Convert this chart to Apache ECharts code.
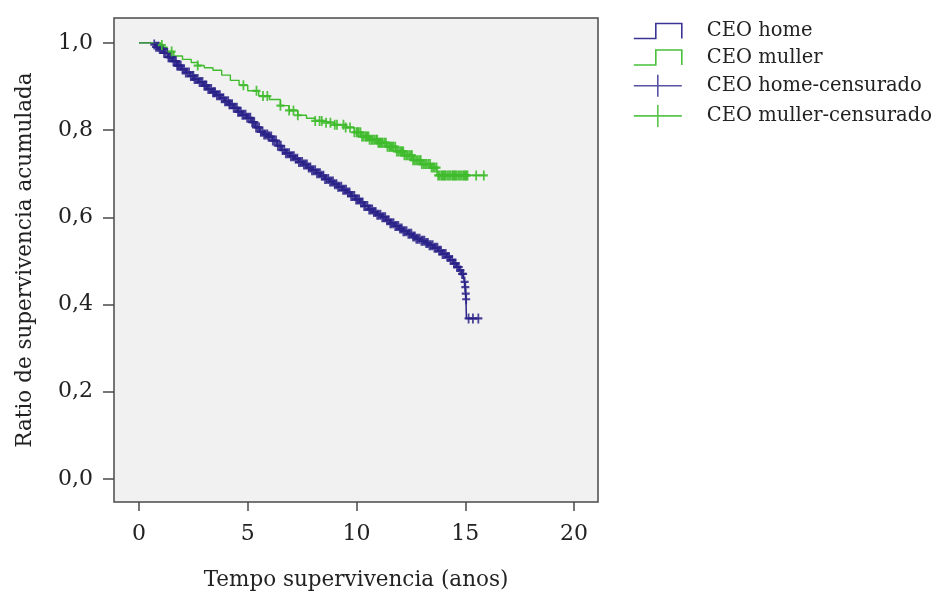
<!DOCTYPE html>
<html>
<head>
<meta charset="utf-8">
<script src="https://cdn.jsdelivr.net/npm/echarts@6/dist/echarts.min.js"></script>
<style>
  html, body { margin: 0; padding: 0; background: #fff; }
  #grafico { width: 946px; height: 596px; }
</style>
</head>
<body>
<div id="grafico"></div>
<script>
// Kaplan-Meier steps (time in years, cumulative survival)
var homeTimes = [0, 0.55, 0.75, 0.95, 1.15, 1.35, 1.55, 1.75, 1.95, 2.15, 2.35, 2.55, 2.75, 2.95, 3.15, 3.35, 3.55, 3.75, 3.95, 4.15, 4.35, 4.55, 4.75, 4.95, 5.15, 5.35, 5.55, 5.75, 5.95, 6.15, 6.35, 6.55, 6.75, 6.95, 7.15, 7.35, 7.55, 7.75, 7.95, 8.15, 8.35, 8.55, 8.75, 8.95, 9.15, 9.35, 9.55, 9.75, 9.95, 10.15, 10.35, 10.55, 10.75, 10.95, 11.15, 11.35, 11.55, 11.75, 11.95, 12.15, 12.35, 12.55, 12.75, 12.95, 13.15, 13.35, 13.55, 13.75, 13.95, 14.15, 14.3, 14.45, 14.6, 14.72, 14.82, 14.92, 14.96, 14.99, 15.01, 15.03, 15.05, 15.62];
var homeSurv = [1.0, 0.996, 0.991, 0.986, 0.977, 0.967, 0.958, 0.948, 0.939, 0.932, 0.924, 0.917, 0.91, 0.902, 0.894, 0.887, 0.88, 0.873, 0.866, 0.859, 0.851, 0.842, 0.835, 0.828, 0.818, 0.806, 0.796, 0.79, 0.785, 0.776, 0.764, 0.754, 0.747, 0.74, 0.734, 0.727, 0.721, 0.714, 0.708, 0.701, 0.695, 0.688, 0.682, 0.676, 0.67, 0.663, 0.657, 0.649, 0.641, 0.634, 0.626, 0.618, 0.612, 0.606, 0.6, 0.593, 0.586, 0.58, 0.574, 0.568, 0.562, 0.556, 0.551, 0.546, 0.541, 0.536, 0.53, 0.523, 0.516, 0.509, 0.502, 0.494, 0.486, 0.478, 0.47, 0.462, 0.452, 0.44, 0.425, 0.412, 0.368, 0.368];
var homeCensor = [0.7, 0.85, 0.95, 1.05, 1.15, 1.3, 1.4, 1.5, 1.65, 1.75, 1.85, 2.0, 2.15, 2.3, 2.45, 2.55, 2.7, 2.85, 3.0, 3.1, 3.25, 3.4, 3.5, 3.65, 3.8, 3.95, 4.1, 4.2, 4.35, 4.5, 4.6, 4.75, 4.9, 5.05, 5.2, 5.3, 5.45, 5.6, 5.75, 5.9, 6.0, 6.15, 6.3, 6.45, 6.6, 6.75, 6.9, 7.05, 7.2, 7.35, 7.5, 7.65, 7.8, 7.95, 8.1, 8.25, 8.4, 8.55, 8.7, 8.85, 9.0, 9.15, 9.3, 9.45, 9.6, 9.75, 9.9, 10.05, 10.2, 10.35, 10.5, 10.65, 10.8, 10.95, 11.1, 11.25, 11.4, 11.55, 11.7, 11.85, 12.0, 12.15, 12.3, 12.45, 12.6, 12.75, 12.9, 13.05, 13.2, 13.35, 13.5, 13.65, 13.8, 13.95, 14.1, 14.25, 14.4, 14.55, 14.7, 14.85, 14.97, 15.0, 15.02, 15.04, 15.15, 15.35, 15.6,
  0.78, 0.9, 1.0, 1.1, 1.22, 1.35, 1.45, 1.58, 1.7, 1.8, 1.92, 2.07, 2.22, 2.38, 2.5, 2.62, 2.78, 2.92, 3.05, 3.18, 3.32, 3.45, 3.58, 3.72, 3.88, 4.02, 4.15, 4.28, 4.42, 4.55, 4.68, 4.82, 4.97, 5.12, 5.25, 5.38, 5.52, 5.68, 5.82, 5.95, 6.08, 6.22, 6.38, 6.52, 6.68, 6.82, 6.98, 7.12, 7.28, 7.42, 7.58, 7.72, 7.88, 8.02, 8.18, 8.32, 8.48, 8.62, 8.78, 8.92, 9.08, 9.22, 9.38, 9.52, 9.68, 9.82, 9.98, 10.12, 10.28, 10.42, 10.58, 10.72, 10.88, 11.02, 11.18, 11.32, 11.48, 11.62, 11.78, 11.92, 12.08, 12.22, 12.38, 12.52, 12.68, 12.82, 12.98, 13.12, 13.28, 13.42, 13.58, 13.72, 13.88, 14.02, 14.18, 14.32, 14.48, 14.62, 14.78, 14.9];

var mullerTimes = [0, 1.0, 1.1, 1.3, 1.6, 2.0, 2.4, 2.7, 3.0, 3.4, 3.8, 4.2, 4.6, 5.0, 5.5, 6.0, 6.5, 6.9, 7.3, 7.7, 8.1, 8.5, 9.0, 9.5, 9.9, 10.2, 10.6, 11.0, 11.4, 11.8, 12.2, 12.6, 13.0, 13.4, 13.7, 15.9];
var mullerSurv = [1.0, 0.995, 0.99, 0.98, 0.97, 0.962, 0.955, 0.948, 0.943, 0.937, 0.926, 0.914, 0.903, 0.89, 0.878, 0.87, 0.856, 0.845, 0.834, 0.827, 0.821, 0.817, 0.812, 0.806, 0.795, 0.785, 0.778, 0.771, 0.762, 0.751, 0.742, 0.731, 0.722, 0.714, 0.696, 0.696];
var mullerCensor = [1.05, 1.5, 2.7, 4.8, 5.4, 5.7, 5.9, 6.5, 6.9, 7.1, 7.3, 8.1, 8.3, 8.4, 8.6, 8.8, 9.0, 9.1, 9.4, 9.5, 9.7, 9.9, 10.0, 10.1, 10.25, 10.4, 10.5, 10.6, 10.75, 10.9, 11.0, 11.1, 11.2, 11.35, 11.5, 11.6, 11.7, 11.85, 12.0, 12.1, 12.2, 12.35, 12.5, 12.6, 12.75, 12.9, 13.0, 13.15, 13.3, 13.45, 13.6, 13.75, 13.9, 14.0, 14.1, 14.25, 14.4, 14.5, 14.6, 14.75, 14.9, 15.0, 15.1, 15.5, 15.85,
  10.05, 10.18, 10.32, 10.45, 10.55, 10.68, 10.82, 10.95, 11.05, 11.15, 11.28, 11.42, 11.55, 11.65, 11.78, 11.92, 12.05, 12.15, 12.28, 12.42, 12.55, 12.68, 12.82, 12.95, 13.08, 13.22, 13.38, 13.52, 13.68, 13.82, 13.95, 14.05, 14.18, 14.32, 14.45, 14.55, 14.68, 14.82, 14.95, 15.05];

var xTicks = [0, 5, 10, 15, 20];
var yTicks = [0, 0.2, 0.4, 0.6, 0.8, 1.0];
var nomes = ['CEO home', 'CEO muller', 'CEO home-censurado', 'CEO muller-censurado'];

var azul = '#2a2288';
var verde = '#3fbb2c';
var fonte = 'DejaVu Serif';

function pares(t, s) {
  var out = [];
  for (var i = 0; i < t.length; i++) out.push([t[i], s[i]]);
  return out;
}
// survival value at the time of a censored case (last step at or before it)
function censura(t, s, c) {
  var out = [];
  for (var j = 0; j < c.length; j++) {
    var v = 1;
    for (var i = 0; i < t.length; i++) {
      if (t[i] <= c[j]) v = s[i];
    }
    out.push([c[j], v]);
  }
  return out;
}

var cruz = 'path://M3.9,0 H6.1 V3.9 H10 V6.1 H6.1 V10 H3.9 V6.1 H0 V3.9 H3.9 Z';
var iconeDegrau = 'path://M0,15 L22,15 L22,0 L48,0 L48,15';
var iconeCruz = 'path://M0,11 L48,11 M24,0 L24,22';

var chartDom = document.getElementById('grafico');
var myChart = echarts.init(chartDom);
var option;

option = {
  animation: false,
  backgroundColor: '#ffffff',
  textStyle: { fontFamily: fonte },
  grid: {
    left: 114,
    top: 18,
    width: 484,
    height: 484,
    show: true,
    backgroundColor: '#f1f1f1',
    borderColor: '#4a4a4a',
    borderWidth: 1.5
  },
  legend: {
    orient: 'vertical',
    left: 628,
    top: 16,
    itemWidth: 48,
    itemHeight: 22,
    itemGap: 6.5,
    selectedMode: false,
    textStyle: { fontFamily: fonte, fontSize: 19.5, color: '#222', padding: [0, 0, 0, 20] },
    data: [
      { name: nomes[0], icon: iconeDegrau, itemStyle: { color: 'rgba(0,0,0,0)', borderColor: '#3a3595', borderWidth: 1.6 } },
      { name: nomes[1], icon: iconeDegrau, itemStyle: { color: 'rgba(0,0,0,0)', borderColor: '#48c03a', borderWidth: 1.6 } },
      { name: nomes[2], icon: iconeCruz, itemStyle: { color: 'rgba(0,0,0,0)', borderColor: '#3a3595', borderWidth: 1.6 } },
      { name: nomes[3], icon: iconeCruz, itemStyle: { color: 'rgba(0,0,0,0)', borderColor: '#48c03a', borderWidth: 1.6 } }
    ]
  },
  xAxis: {
    type: 'value',
    min: -1.15,
    max: 21.1,
    name: 'Tempo supervivencia (anos)',
    nameLocation: 'middle',
    nameGap: 67,
    nameTextStyle: { fontFamily: fonte, fontSize: 21.5, color: '#222' },
    axisLine: { show: false, onZero: false },
    splitLine: { show: false },
    axisTick: { show: true, length: 9, customValues: xTicks, lineStyle: { color: '#4a4a4a', width: 1.5 } },
    axisLabel: { customValues: xTicks, margin: 21, fontFamily: fonte, fontSize: 22, color: '#222' }
  },
  yAxis: {
    type: 'value',
    min: -0.053,
    max: 1.057,
    name: 'Ratio de supervivencia acumulada',
    nameLocation: 'middle',
    nameGap: 78,
    nameTextStyle: { fontFamily: fonte, fontSize: 21.5, color: '#222' },
    axisLine: { show: false, onZero: false },
    splitLine: { show: false },
    axisTick: { show: true, length: 11, customValues: yTicks, lineStyle: { color: '#4a4a4a', width: 1.5 } },
    axisLabel: {
      customValues: yTicks,
      margin: 21,
      fontFamily: fonte,
      fontSize: 22,
      color: '#222',
      formatter: function (v) { return v.toFixed(1).replace('.', ','); }
    }
  },
  series: [
    {
      name: nomes[0],
      type: 'line',
      step: 'end',
      showSymbol: false,
      color: azul,
      lineStyle: { color: azul, width: 1.5 },
      data: pares(homeTimes, homeSurv),
      z: 2
    },
    {
      name: nomes[1],
      type: 'line',
      step: 'end',
      showSymbol: false,
      color: verde,
      lineStyle: { color: verde, width: 1.4 },
      data: pares(mullerTimes, mullerSurv),
      z: 3
    },
    {
      name: nomes[2],
      type: 'scatter',
      symbol: cruz,
      symbolSize: [8, 10],
      itemStyle: { color: azul, opacity: 0.85 },
      data: censura(homeTimes, homeSurv, homeCensor),
      z: 4
    },
    {
      name: nomes[3],
      type: 'scatter',
      symbol: cruz,
      symbolSize: [8, 10],
      itemStyle: { color: verde, opacity: 0.9 },
      data: censura(mullerTimes, mullerSurv, mullerCensor),
      z: 4
    }
  ]
};

option && myChart.setOption(option);
</script>
</body>
</html>
